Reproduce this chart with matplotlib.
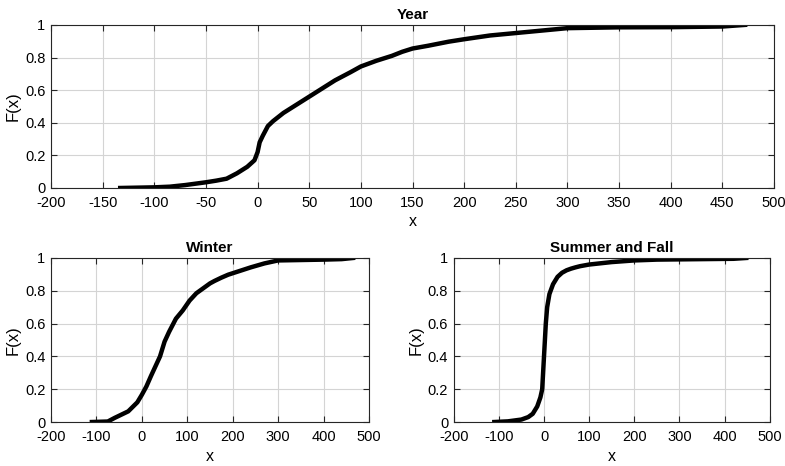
import matplotlib
matplotlib.use("Agg")
import matplotlib.pyplot as plt

plt.rcParams["font.family"] = ["Liberation Sans", "DejaVu Sans"]
plt.rcParams["font.size"] = 10.5

year_x = [-133, -100, -85, -70, -50, -40, -30, -20, -10, -3, 0, 2, 5, 10, 15, 25,
          40, 50, 60, 75, 90, 100, 115, 130, 140, 150, 165, 185, 200, 225, 250,
          275, 300, 350, 400, 450, 472]
year_f = [0.0, 0.004, 0.008, 0.018, 0.035, 0.045, 0.057, 0.09, 0.13, 0.17, 0.22,
          0.28, 0.32, 0.38, 0.41, 0.46, 0.52, 0.56, 0.60, 0.66, 0.71, 0.745, 0.78,
          0.81, 0.835, 0.855, 0.872, 0.897, 0.912, 0.935, 0.95, 0.965, 0.98,
          0.985, 0.986, 0.99, 1.0]

winter_x = [-110, -75, -60, -30, -10, 0, 10, 20, 30, 40, 50, 60, 75, 90, 100,
            105, 115, 120, 130, 140, 150, 160, 175, 190, 200, 220, 240, 255, 270,
            285, 300, 400, 440, 465]
winter_f = [0.0, 0.003, 0.025, 0.065, 0.12, 0.166, 0.217, 0.28, 0.34, 0.40, 0.49,
            0.55, 0.63, 0.68, 0.72, 0.74, 0.77, 0.785, 0.805, 0.825, 0.845, 0.86,
            0.88, 0.898, 0.907, 0.925, 0.943, 0.955, 0.967, 0.976, 0.985, 0.99,
            0.993, 1.0]

summer_x = [-110, -80, -50, -35, -25, -15, -8, -4, -2, 0, 2, 4, 7, 12, 20, 30, 40,
            50, 60, 70, 80, 100, 150, 200, 250, 420, 448]
summer_f = [0.0, 0.004, 0.015, 0.03, 0.05, 0.095, 0.15, 0.20, 0.30, 0.40, 0.50,
            0.60, 0.70, 0.78, 0.84, 0.885, 0.91, 0.925, 0.935, 0.943, 0.95, 0.96,
            0.975, 0.985, 0.99, 0.995, 1.0]


def style_axes(ax, xticks, title):
    ax.set_xlim(xticks[0], xticks[-1])
    ax.set_ylim(0, 1)
    ax.set_xticks(xticks)
    ax.set_xticklabels([str(t) for t in xticks])
    ax.set_yticks([0, 0.2, 0.4, 0.6, 0.8, 1])
    ax.set_yticklabels(["0", "0.2", "0.4", "0.6", "0.8", "1"])
    ax.grid(True, color="#d4d4d4", linewidth=0.8)
    ax.set_axisbelow(True)
    ax.tick_params(direction="in", top=True, right=True, length=4,
                   width=0.8, color="#262626", labelsize=10.5)
    ax.tick_params(axis="x", pad=6)
    ax.tick_params(axis="y", pad=4)
    for sp in ax.spines.values():
        sp.set_color("#262626")
        sp.set_linewidth(0.8)
    ax.set_title(title, fontsize=11, fontweight="bold", pad=4)
    ax.set_xlabel("x", fontsize=11.5, labelpad=3)
    ax.set_ylabel("F(x)", fontsize=12, labelpad=3)


fig = plt.figure(figsize=(7.85, 4.66), dpi=100)
fig.set_facecolor("white")

ax_year = fig.add_axes([0.065, 0.5966, 0.921, 0.35])
ax_year.plot(year_x, year_f, color="black", linewidth=3.2)
style_axes(ax_year, list(range(-200, 501, 50)), "Year")

ax_win = fig.add_axes([0.065, 0.0944, 0.405, 0.352])
ax_win.plot(winter_x, winter_f, color="black", linewidth=3.2)
style_axes(ax_win, list(range(-200, 501, 100)), "Winter")

ax_sum = fig.add_axes([0.578, 0.0944, 0.4025, 0.352])
ax_sum.plot(summer_x, summer_f, color="black", linewidth=3.2)
style_axes(ax_sum, list(range(-200, 501, 100)), "Summer and Fall")

fig.savefig("out.png", dpi=100, facecolor="white")
